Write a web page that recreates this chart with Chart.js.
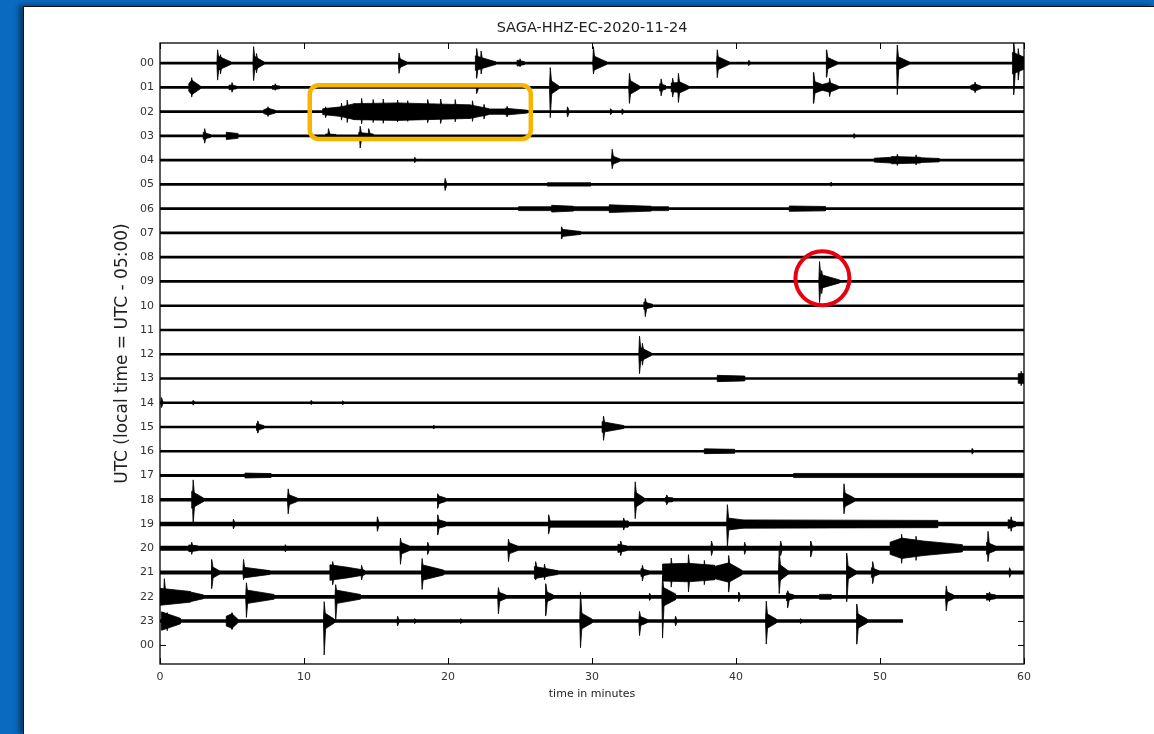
<!DOCTYPE html>
<html><head><meta charset="utf-8">
<script src="https://cdn.jsdelivr.net/npm/chart.js@4/dist/chart.umd.min.js"></script>
<style>
html,body{margin:0;padding:0;width:1154px;height:734px;overflow:hidden;background:#0a6abf;}
#panel{position:absolute;left:23px;top:6px;width:1131px;height:728px;background:#fff;border-left:1px solid #111;border-top:1px solid #111;box-shadow:-4px -1px 5px rgba(0,0,0,.45);}
#c{position:absolute;left:0;top:0;}
</style></head>
<body><div id="panel"></div><canvas id="c" width="1154" height="734"></canvas>
<script>
const chartTitle = 'SAGA-HHZ-EC-2020-11-24';
const xTitle = 'time in minutes';
const yTitle = 'UTC (local time = UTC - 05:00)';
const rowLabels = ['00','01','02','03','04','05','06','07','08','09','10','11','12','13','14','15','16','17','18','19','20','21','22','23','00'];
const xTicks = [0,10,20,30,40,50,60];
// background noise half-amplitude of each hourly trace (in trace spacings)
const rowNoise = [0.055,0.055,0.055,0.055,0.055,0.055,0.055,0.055,0.055,0.055,0.055,0.055,0.055,0.055,0.055,0.055,0.055,0.06,0.075,0.09,0.1,0.08,0.075,0.07];
// minute where each trace ends
const rowEnd = [60,60,60,60,60,60,60,60,60,60,60,60,60,60,60,60,60,60,60,60,60,60,60,51.6];
// spikes: [row, minute, amplitude up, amplitude down]
const spikes = [
 [0,4.0,0.55,0.7],[0,4.2,0.35,0.45],[0,6.5,0.68,0.72],[0,6.7,0.4,0.4],[0,16.6,0.42,0.42],[0,22.0,0.6,0.62],[0,22.3,0.5,0.45],[0,25.0,0.18,0.15],[0,30.1,0.68,0.45],[0,38.7,0.55,0.6],[0,40.9,0.12,0.1],[0,46.3,0.55,0.58],[0,51.2,0.75,1.3],[0,59.3,0.85,1.3],[0,59.6,0.6,0.7],
 [1,2.2,0.4,0.4],[1,5.0,0.2,0.2],[1,8.0,0.15,0.12],[1,22.0,0.1,0.25],[1,27.1,0.82,1.25],[1,32.6,0.58,0.66],[1,34.8,0.35,0.35],[1,35.6,0.38,0.4],[1,36.0,0.58,0.62],[1,45.4,0.62,0.66],[1,46.5,0.38,0.38],[1,56.6,0.22,0.22],
 [2,7.5,0.2,0.2],[2,11.5,0.2,0.25],[2,12.6,0.35,0.35],[2,13.0,0.48,0.45],[2,14.0,0.55,0.5],[2,14.8,0.5,0.45],[2,15.5,0.52,0.48],[2,16.5,0.48,0.42],[2,17.2,0.45,0.4],[2,18.6,0.5,0.45],[2,19.5,0.52,0.48],[2,20.5,0.5,0.42],[2,21.7,0.45,0.4],[2,22.5,0.3,0.3],[2,24.1,0.22,0.22],[2,28.3,0.2,0.22],[2,31.3,0.12,0.12],[2,32.1,0.12,0.12],
 [3,3.1,0.3,0.3],[3,11.7,0.3,0.1],[3,13.9,0.4,0.5],[3,14.5,0.3,0.2],[3,48.2,0.1,0.1],
 [4,17.7,0.12,0.1],[4,31.4,0.45,0.35],[4,51.2,0.25,0.22],[4,52.5,0.22,0.2],
 [5,19.8,0.25,0.25],[5,46.6,0.1,0.08],
 [7,27.9,0.25,0.25],
 [9,45.8,0.82,0.87],[9,45.95,0.45,0.5],
 [10,33.7,0.3,0.45],
 [12,33.3,0.75,0.8],[12,33.5,0.45,0.45],
 [13,59.8,0.3,0.3],
 [14,0.1,0.22,0.2],[14,2.3,0.1,0.1],[14,10.5,0.1,0.08],[14,12.7,0.08,0.08],
 [15,6.8,0.25,0.25],[15,19.0,0.08,0.08],[15,30.8,0.45,0.55],
 [16,56.4,0.12,0.12],
 [18,2.3,0.82,1.03],[18,8.9,0.45,0.58],[18,19.3,0.25,0.35],[18,33.0,0.74,0.78],[18,35.2,0.2,0.2],[18,47.5,0.66,0.58],
 [19,5.1,0.2,0.2],[19,15.1,0.3,0.3],[19,19.3,0.38,0.45],[19,27.0,0.38,0.4],[19,32.2,0.25,0.25],[19,39.4,0.8,0.95],[19,59.1,0.3,0.3],
 [20,2.2,0.25,0.25],[20,8.7,0.15,0.15],[20,16.7,0.42,0.66],[20,18.6,0.25,0.25],[20,24.2,0.38,0.55],[20,32.0,0.3,0.3],[20,38.3,0.3,0.3],[20,40.6,0.25,0.25],[20,43.1,0.3,0.3],[20,45.2,0.3,0.35],[20,51.5,0.58,0.62],[20,52.5,0.5,0.5],[20,57.5,0.7,0.55],
 [21,3.6,0.54,0.66],[21,5.8,0.54,0.3],[21,12.0,0.45,0.5],[21,14.0,0.3,0.3],[21,18.2,0.58,0.7],[21,26.1,0.45,0.3],[21,26.7,0.35,0.3],[21,33.5,0.3,0.35],[21,35.5,0.6,0.6],[21,36.7,0.74,0.8],[21,37.8,0.5,0.5],[21,39.5,0.7,0.8],[21,43.0,0.9,0.87],[21,47.7,0.8,1.2],[21,49.5,0.45,0.45],[21,59.0,0.2,0.2],
 [22,0.3,0.75,0.3],[22,6.0,0.58,0.85],[22,12.2,0.5,1.0],[22,23.5,0.38,0.7],[22,26.8,0.54,0.78],[22,34.0,0.15,0.15],[22,34.9,0.86,1.7],[22,40.2,0.2,0.2],[22,43.6,0.25,0.45],[22,54.6,0.45,0.58],[22,57.6,0.2,0.2],
 [23,0.5,0.35,0.4],[23,5.0,0.35,0.35],[23,11.4,0.8,1.4],[23,16.5,0.2,0.2],[23,17.7,0.1,0.1],[23,20.9,0.1,0.1],[23,29.2,1.2,1.1],[23,33.3,0.4,0.6],[23,35.8,0.2,0.2],[23,42.1,0.82,0.95],[23,44.5,0.1,0.1],[23,48.4,0.7,0.95]
];
// noise bursts / codas: [row, from minute, to minute, half amplitude at start, half amplitude at end]
const bands = [
 [0,4.0,4.9,0.3,0.06],[0,6.5,7.2,0.3,0.06],[0,16.6,17.1,0.2,0.06],[0,21.9,23.3,0.3,0.06],[0,24.8,25.3,0.12,0.06],[0,30.1,31.0,0.3,0.06],[0,38.7,39.5,0.28,0.06],[0,46.3,47.0,0.25,0.06],[0,51.2,52.0,0.28,0.06],[0,59.2,60,0.45,0.25],
 [1,2.0,2.2,0.15,0.3],[1,2.2,2.8,0.3,0.06],[1,4.8,5.3,0.1,0.06],[1,7.8,8.3,0.08,0.06],[1,27.1,27.7,0.3,0.06],[1,32.6,33.3,0.3,0.06],[1,34.7,35.1,0.15,0.08],[1,35.5,36.0,0.18,0.2],[1,36.0,36.7,0.25,0.06],[1,45.4,46.0,0.25,0.12],[1,46.0,46.5,0.12,0.2],[1,46.5,47.1,0.2,0.06],[1,56.3,56.6,0.08,0.14],[1,56.6,57.0,0.14,0.06],
 [2,7.2,7.5,0.08,0.14],[2,7.5,8.0,0.14,0.06],[2,11.3,12.6,0.12,0.2],[2,12.6,13.5,0.2,0.33],[2,13.5,16.5,0.33,0.36],[2,16.5,19.0,0.36,0.32],[2,19.0,21.5,0.32,0.28],[2,21.5,22.8,0.28,0.13],[2,22.8,24.0,0.11,0.11],[2,24.0,25.5,0.14,0.06],
 [3,3.0,3.5,0.14,0.06],[3,4.6,5.4,0.15,0.1],[3,11.5,12.2,0.08,0.06],[3,13.8,14.8,0.14,0.08],
 [4,31.4,31.9,0.18,0.06],[4,49.6,50.8,0.08,0.12],[4,50.8,52.8,0.15,0.12],[4,52.8,54.1,0.1,0.07],
 [5,26.9,29.9,0.07,0.07],
 [6,24.9,35.3,0.08,0.08],[6,27.2,28.7,0.14,0.1],[6,31.2,34.1,0.16,0.1],[6,43.7,46.2,0.11,0.09],
 [7,27.9,29.2,0.15,0.06],
 [9,45.8,47.2,0.3,0.06],
 [10,33.6,34.2,0.15,0.06],
 [12,33.3,34.1,0.3,0.06],
 [13,38.7,40.6,0.13,0.1],[13,59.6,60,0.2,0.2],
 [15,6.7,7.2,0.14,0.06],[15,30.7,32.2,0.22,0.06],
 [16,37.8,39.9,0.1,0.08],
 [17,5.9,7.7,0.1,0.08],[17,44,60,0.085,0.085],
 [18,2.2,3.0,0.35,0.08],[18,8.9,9.5,0.22,0.08],[18,19.3,19.8,0.17,0.08],[18,33.0,33.6,0.32,0.08],[18,35.1,35.6,0.1,0.08],[18,47.5,48.2,0.3,0.08],
 [19,19.3,19.8,0.18,0.1],[19,27.0,32.5,0.13,0.13],[19,39.4,40.5,0.25,0.17],[19,40.5,54.0,0.17,0.15],[19,58.9,59.4,0.18,0.1],
 [20,2.0,2.6,0.14,0.1],[20,16.7,17.3,0.25,0.1],[20,24.2,24.8,0.24,0.1],[20,31.8,32.4,0.17,0.1],[20,50.7,51.5,0.25,0.42],[20,51.5,53.0,0.42,0.3],[20,53.0,55.7,0.3,0.15],[20,57.4,58.0,0.25,0.1],
 [21,3.6,4.1,0.25,0.08],[21,5.8,7.6,0.22,0.08],[21,11.8,13.0,0.32,0.22],[21,13.0,14.2,0.22,0.1],[21,18.2,19.7,0.32,0.1],[21,26.0,27.6,0.25,0.08],[21,33.4,33.9,0.16,0.08],[21,34.9,36.7,0.35,0.38],[21,36.7,38.5,0.38,0.3],[21,38.5,39.5,0.25,0.4],[21,39.5,40.4,0.4,0.1],[21,43.0,43.6,0.35,0.08],[21,47.7,48.3,0.3,0.08],[21,49.4,49.9,0.2,0.08],
 [22,0,2.1,0.35,0.22],[22,2.1,3.0,0.2,0.08],[22,6.0,7.9,0.28,0.1],[22,12.2,13.9,0.28,0.1],[22,23.5,24.0,0.2,0.08],[22,26.8,27.3,0.22,0.08],[22,34.9,35.8,0.4,0.12],[22,43.5,44.0,0.16,0.08],[22,45.8,46.6,0.1,0.1],[22,54.6,55.1,0.22,0.08],[22,57.4,58.0,0.14,0.08],
 [23,0.1,1.4,0.38,0.12],[23,4.6,5.0,0.2,0.3],[23,5.0,5.4,0.3,0.08],[23,11.4,12.1,0.35,0.08],[23,29.2,30.0,0.35,0.08],[23,33.3,33.8,0.2,0.08],[23,42.1,42.8,0.32,0.08],[23,48.4,49.1,0.32,0.08]
];
// highlighted areas (data coordinates)
const boxHighlight = {x0:10.4, x1:25.75, y0:0.91, y1:3.13};
const circleHighlight = {x:46.0, y:8.87};

// ---- chart ----
const FONT = "'DejaVu Sans', sans-serif";
const SPIKE_AHEAD = 0.13, SPIKE_BEHIND = 0.05; // spindle half-widths in minutes (style)
function rowPx(chart){
  const y = chart.scales && chart.scales.y;
  if (!y) return 24.26;
  return Math.abs(y.getPixelForValue(1) - y.getPixelForValue(0));
}
function lineDataset(r, a, b, h){
  return {
    data:[{x:a,y:r},{x:b,y:r}],
    borderColor:'#000', borderCapStyle:'butt',
    borderWidth: c => Math.max(1.2, 2*h*rowPx(c.chart)),
    pointRadius:0, fill:false, tension:0
  };
}
function shapeDataset(pts){
  return {data:pts, borderColor:'#000', backgroundColor:'#000', borderWidth:0.8,
          borderJoinStyle:'round', pointRadius:0, fill:'shape', tension:0};
}
const datasets = [];
rowNoise.forEach((h, r) => datasets.push(lineDataset(r, 0, rowEnd[r], h)));
bands.forEach(([r, a, b, h0, h1]) => datasets.push(shapeDataset([
  {x:a, y:r-h0}, {x:b, y:r-h1}, {x:b, y:r+h1}, {x:a, y:r+h0}, {x:a, y:r-h0}
])));
spikes.forEach(([r, m, up, dn]) => datasets.push(shapeDataset([
  {x:m, y:r-up}, {x:m+SPIKE_AHEAD, y:r}, {x:m, y:r+dn}, {x:m-SPIKE_BEHIND, y:r}, {x:m, y:r-up}
])));

const decor = {
  id:'decor',
  afterDatasetsDraw(chart){
    const {ctx, chartArea:a, scales:{x, y}} = chart;
    ctx.save();
    // highlights
    const bx0 = x.getPixelForValue(boxHighlight.x0), bx1 = x.getPixelForValue(boxHighlight.x1);
    const by0 = y.getPixelForValue(boxHighlight.y0), by1 = y.getPixelForValue(boxHighlight.y1);
    ctx.strokeStyle = '#f8b500'; ctx.lineWidth = 4.5;
    ctx.beginPath(); ctx.roundRect(bx0, Math.min(by0,by1), bx1-bx0, Math.abs(by1-by0), 9); ctx.stroke();
    ctx.strokeStyle = '#e8000f'; ctx.lineWidth = 4;
    ctx.beginPath(); ctx.arc(x.getPixelForValue(circleHighlight.x), y.getPixelForValue(circleHighlight.y), 27, 0, Math.PI*2); ctx.stroke();
    // frame
    ctx.strokeStyle = '#000'; ctx.lineWidth = 1.3;
    ctx.strokeRect(a.left, a.top, a.right-a.left, a.bottom-a.top);
    ctx.lineWidth = 1;
    ctx.beginPath();
    x.ticks.forEach(t => { const p = Math.round(x.getPixelForValue(t.value))+0.5;
      ctx.moveTo(p, a.bottom); ctx.lineTo(p, a.bottom-6); ctx.moveTo(p, a.top); ctx.lineTo(p, a.top+6); });
    y.ticks.forEach(t => { const p = Math.round(y.getPixelForValue(t.value))+0.5;
      ctx.moveTo(a.left, p); ctx.lineTo(a.left+6, p); ctx.moveTo(a.right, p); ctx.lineTo(a.right-6, p); });
    ctx.stroke();
    // texts
    const cx = (a.left + a.right)/2, cy = (a.top + a.bottom)/2;
    ctx.fillStyle = '#222'; ctx.textAlign = 'center'; ctx.textBaseline = 'middle';
    ctx.font = '14.5px ' + FONT; ctx.fillText(chartTitle, cx, a.top - 14.5);
    ctx.font = '11px ' + FONT; ctx.fillText(xTitle, cx, a.bottom + 30);
    ctx.save(); ctx.translate(a.left - 37, cy); ctx.rotate(-Math.PI/2);
    ctx.font = '17px ' + FONT; ctx.fillText(yTitle, 0, 0); ctx.restore();
    ctx.restore();
  }
};

new Chart(document.getElementById('c'), {
  type:'line',
  data:{datasets},
  options:{
    responsive:false, animation:false, events:[],
    layout:{padding:{left:0, top:43, right:130, bottom:0}},
    plugins:{legend:{display:false}, tooltip:{enabled:false}, title:{display:false}},
    scales:{
      x:{type:'linear', min:0, max:60,
         afterBuildTicks: s => { s.ticks = xTicks.map(v => ({value:v})); },
         afterFit: s => { s.height = 70; },
         grid:{display:false, drawTicks:false}, border:{display:false},
         ticks:{padding:7, color:'#333', maxRotation:0, autoSkip:false, font:{family:FONT, size:11}}},
      y:{type:'linear', min:-0.83, max:24.77, reverse:true,
         afterBuildTicks: s => { s.ticks = rowLabels.map((_, i) => ({value:i})); },
         afterFit: s => { s.width = 160; },
         grid:{display:false, drawTicks:false}, border:{display:false},
         ticks:{padding:6, color:'#333', autoSkip:false, font:{family:FONT, size:11},
                callback: v => rowLabels[v] !== undefined ? rowLabels[v] : ''}}
    }
  },
  plugins:[decor]
});
</script>
</body></html>
